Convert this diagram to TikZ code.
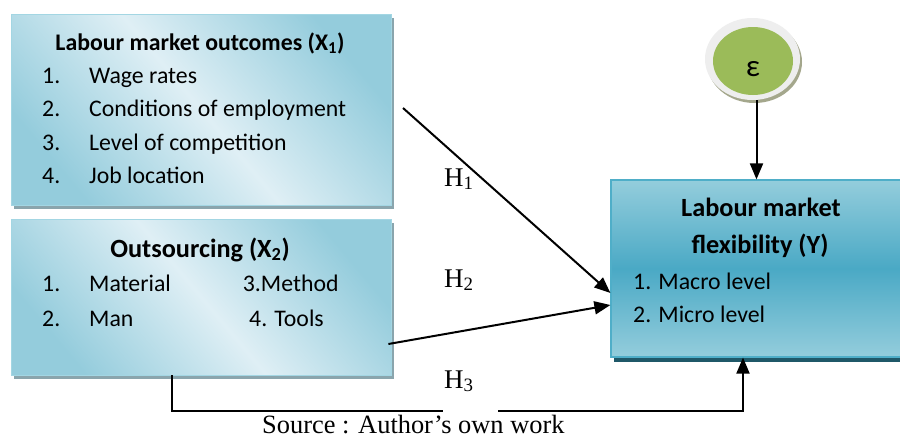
\documentclass[tikz,border=0pt]{standalone}
\usepackage{fontspec}
\setmainfont{Carlito}
\newfontfamily\timesfont{Liberation Serif}
\usetikzlibrary{arrows.meta,shadows,shapes.geometric,calc}

\definecolor{boxdark}{HTML}{94CCDC}
\definecolor{boxlight}{HTML}{DFEFF5}
\definecolor{boxedge}{HTML}{A3D6E3}
\definecolor{boxshade}{HTML}{8AA5AD}
\definecolor{ydark}{HTML}{4AA9C5}
\definecolor{ylight}{HTML}{94CDDC}
\definecolor{yedge}{HTML}{4FAEC8}
\definecolor{yshade}{HTML}{1F5868}
\definecolor{epsgreen}{HTML}{9BBB59}
\definecolor{epsring}{HTML}{EEEEEE}
\definecolor{epsshade}{HTML}{A4A78C}

\tikzset{
  varbox/.style={draw=boxedge, line width=0.8pt, inner sep=0pt,
    top color=boxdark, bottom color=boxdark, middle color=boxlight,
    shading angle=-50,
    drop shadow={shadow xshift=3pt, shadow yshift=-4pt, fill=boxshade, opacity=1}},
  ybox/.style={draw=yedge, line width=1.2pt, inner sep=0pt,
    top color=ylight, bottom color=ylight, middle color=ydark,
    drop shadow={shadow xshift=3pt, shadow yshift=-5pt, fill=yshade, opacity=1}},
  boxtext/.style={inner sep=0pt, anchor=base west, font=\fontsize{23.8}{28}\selectfont},
  boxtitle/.style={inner sep=0pt, anchor=base, font=\fontsize{23.8}{28}\selectfont\bfseries},
  bigtitle/.style={inner sep=0pt, anchor=base, font=\fontsize{26.3}{30}\selectfont\bfseries},
  hlabel/.style={inner sep=0pt, anchor=base west, font=\timesfont\fontsize{27}{32}\selectfont},
  arr/.style={line width=2pt, -{Triangle[length=16pt,width=13pt]}},
}

\begin{document}
\begin{tikzpicture}[x=1pt, y=-1pt]
\clip (0,0) rectangle (900,437);
\fill[white] (0,0) rectangle (900,437);

% independent variable X1
\node[varbox, minimum width=380pt, minimum height=191pt] (box1) at (201,109.5) {};
\node[boxtitle] (t1) at (200,50) {Labour market outcomes (X\textsubscript{1})};
\node[boxtext] (n11) at (42,83.3) {1.};
\node[boxtext] (i11) at (89,83.3) {Wage rates};
\node[boxtext] (n12) at (42,116.8) {2.};
\node[boxtext] (i12) at (89,116.8) {Conditions of employment};
\node[boxtext] (n13) at (42,150.3) {3.};
\node[boxtext] (i13) at (89,150.3) {Level of competition};
\node[boxtext] (n14) at (42,183.8) {4.};
\node[boxtext] (i14) at (89,183.8) {Job location};

% independent variable X2
\node[varbox, minimum width=380pt, minimum height=156pt] (box2) at (201,297) {};
\node[bigtitle] (t2) at (200,257) {Outsourcing (X\textsubscript{2})};
\node[boxtext] (n21) at (42,291.7) {1.};
\node[boxtext] (i21) at (89,291.7) {Material};
\node[boxtext] (i23) at (242.7,291.7) {3.Method};
\node[boxtext] (n22) at (42,326) {2.};
\node[boxtext] (i22) at (89,326) {Man};
\node[boxtext] (i24) at (249,326) {4. Tools};

% dependent variable Y
\node[ybox, minimum width=299pt, minimum height=177pt] (ybox) at (760.5,268.5) {};
\node[bigtitle] (ty1) at (761,216.7) {Labour market};
\node[bigtitle] (ty2) at (760,253) {flexibility (Y)};
\node[boxtext] (iy1) at (633,289) {1. Macro level};
\node[boxtext] (iy2) at (633,322.7) {2. Micro level};

% error term
\node[ellipse, fill=epsring, minimum width=95pt, minimum height=82pt, inner sep=0pt,
  drop shadow={shadow xshift=2pt, shadow yshift=-3pt, fill=epsshade, opacity=1}] (eps) at (752.5,59) {};
\node[ellipse, fill=epsgreen, minimum width=80pt, minimum height=68pt, inner sep=0pt] (epsin) at (753,61) {};
\node[inner sep=0pt, font=\fontsize{31}{34}\selectfont] (epst) at (753,69) {ε};

% hypothesised paths
\coordinate (h1s) at (403,108);
\coordinate (h3y) at (0,410.5);
\coordinate (gapl) at (443,410.5);
\coordinate (gapr) at (498,410.5);
\draw[arr] ([xshift=4pt]eps.south) -- ([xshift=4pt]eps.south |- ybox.north);
\draw[arr] (h1s) -- ([yshift=-24.5pt]ybox.west);
\draw[arr] ([xshift=-3pt,yshift=-47pt]box2.east) -- ([yshift=-36.5pt]ybox.west);
\draw[line width=2pt] ([xshift=-29pt]box2.south) |- (gapl);
\draw[arr] (gapr) -- ([xshift=-17.5pt]ybox.south |- h3y) -- ([xshift=-17.5pt]ybox.south);

\node[hlabel] (h1) at (444,186) {H\textsubscript{1}};
\node[hlabel] (h2) at (444,287) {H\textsubscript{2}};
\node[hlabel] (h3) at (444,388) {H\textsubscript{3}};

\node[inner sep=0pt, anchor=base west, font=\timesfont\fontsize{26.4}{30}\selectfont] (src) at (262,433) {Source : Author’s own work};
\end{tikzpicture}
\end{document}
